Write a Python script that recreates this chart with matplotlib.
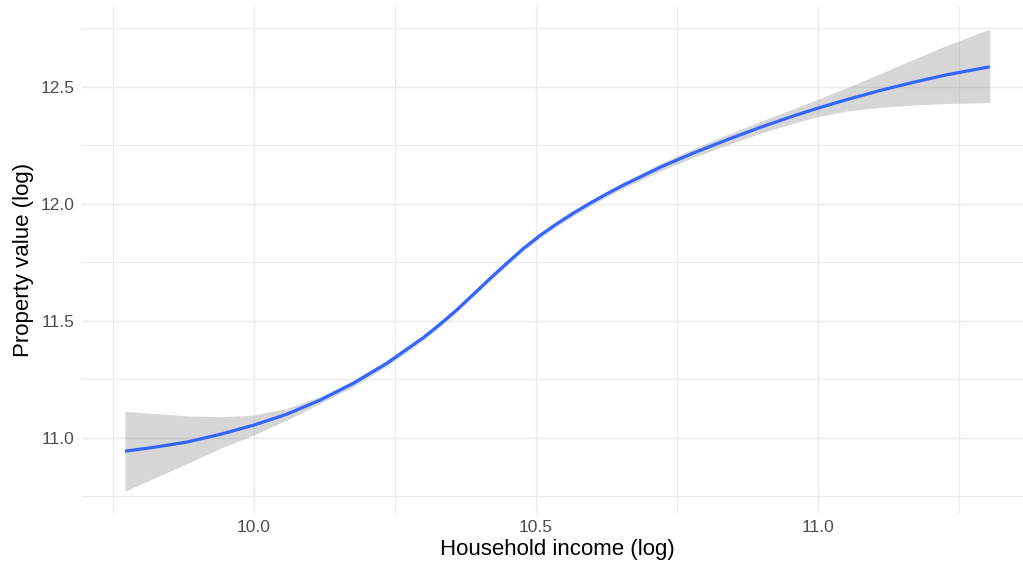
import matplotlib
matplotlib.use("Agg")
import matplotlib.pyplot as plt
import numpy as np

# LOESS-style fit of log property value on log household income, with its 95% band
income_log = [9.772, 9.822, 9.882, 9.941, 10.000, 10.059, 10.118, 10.177, 10.236,
              10.301, 10.330, 10.360, 10.419, 10.449, 10.478, 10.508, 10.538, 10.567,
              10.597, 10.627, 10.656, 10.722, 10.779, 10.838, 10.898, 10.957,
              11.000, 11.052, 11.111, 11.170, 11.229, 11.305]
value_fit = [10.943, 10.959, 10.982, 11.015, 11.054, 11.101, 11.161, 11.233, 11.318,
             11.428, 11.484, 11.546, 11.680, 11.746, 11.808, 11.865, 11.915, 11.960,
             12.003, 12.043, 12.080, 12.157, 12.216, 12.272, 12.326, 12.375,
             12.408, 12.445, 12.484, 12.519, 12.551, 12.585]
value_lower = [10.772, 10.826, 10.890, 10.955, 11.012, 11.076, 11.147, 11.219, 11.305,
               11.416, 11.473, 11.535, 11.669, 11.735, 11.797, 11.854, 11.904, 11.948,
               11.991, 12.030, 12.067, 12.141, 12.197, 12.250, 12.301, 12.344,
               12.372, 12.396, 12.412, 12.422, 12.428, 12.432]
value_upper = [11.114, 11.104, 11.094, 11.090, 11.097, 11.126, 11.176, 11.247, 11.332,
               11.440, 11.495, 11.557, 11.691, 11.757, 11.819, 11.876, 11.926, 11.972,
               12.015, 12.056, 12.093, 12.173, 12.235, 12.294, 12.351, 12.406,
               12.446, 12.496, 12.556, 12.617, 12.677, 12.746]

x_major = [10.0, 10.5, 11.0]
x_minor = [9.75, 10.25, 10.75, 11.25]
y_major = [11.0, 11.5, 12.0, 12.5]
y_minor = [10.75, 11.25, 11.75, 12.25, 12.75]
x_title = "Household income (log)"
y_title = "Property value (log)"

plt.rcParams['font.family'] = ['Liberation Sans', 'DejaVu Sans']

W, H = 1023, 568
fig = plt.figure(figsize=(W / 100, H / 100), dpi=100)
fig.patch.set_facecolor("white")
left_px, right_px, top_px, bottom_px = 81.7, 1033.0, 6.0, 514.3
ax = fig.add_axes([left_px / W, 1 - bottom_px / H,
                   (right_px - left_px) / W, (bottom_px - top_px) / H])
ax.set_facecolor("white")

ax.fill_between(income_log, value_lower, value_upper, color="#999999",
                alpha=0.4, linewidth=0, zorder=2)
ax.plot(income_log, value_fit, color="#3366FF", linewidth=2.3, zorder=3,
        solid_capstyle="butt", solid_joinstyle="round")

# ggplot-style 5% expansion of the data range
xs = np.array(income_log)
lo, hi = np.array(value_lower), np.array(value_upper)
xr = xs.max() - xs.min()
ax.set_xlim(xs.min() - 0.05 * xr, xs.max() + 0.05 * xr)
yr = hi.max() - lo.min()
ax.set_ylim(lo.min() - 0.05 * yr, hi.max() + 0.05 * yr)

ax.set_xticks(x_major)
ax.set_xticks(x_minor, minor=True)
ax.set_yticks(y_major)
ax.set_yticks(y_minor, minor=True)
ax.set_xticklabels([f"{v:.1f}" for v in x_major])
ax.set_yticklabels([f"{v:.1f}" for v in y_major])

ax.grid(which="major", color="#EBEBEB", linewidth=1.05, zorder=0)
ax.grid(which="minor", color="#EBEBEB", linewidth=0.75, zorder=0)
ax.set_axisbelow(True)
for s in ax.spines.values():
    s.set_visible(False)
ax.tick_params(which="both", length=0)
ax.tick_params(axis="x", which="major", labelsize=12.5, labelcolor="#4D4D4D", pad=4)
ax.tick_params(axis="y", which="major", labelsize=12.5, labelcolor="#4D4D4D", pad=5)

ax.set_xlabel(x_title, fontsize=16, color="black", labelpad=3)
ax.set_ylabel(y_title, fontsize=16, color="black", labelpad=5)

fig.savefig("out.png", dpi=100, facecolor="white")
